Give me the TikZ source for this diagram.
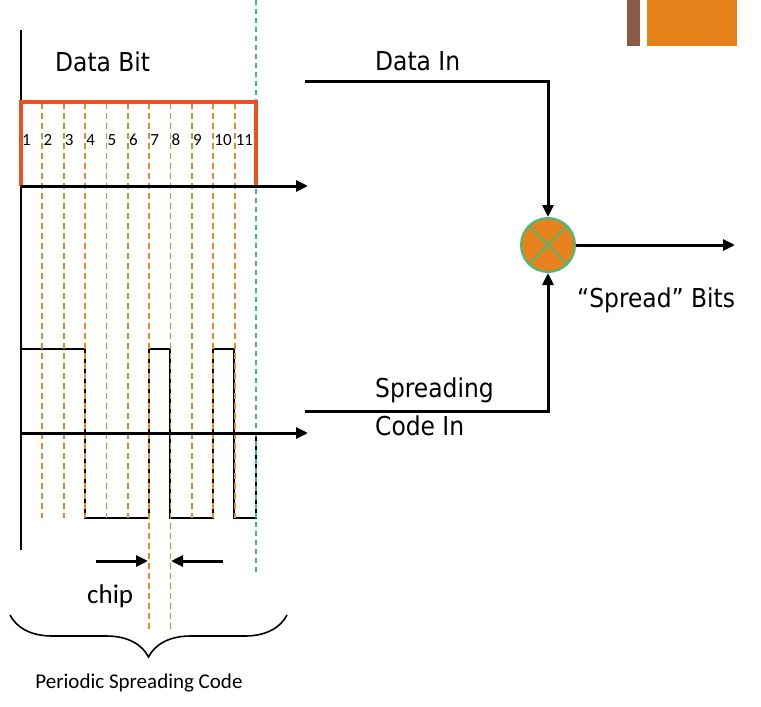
\documentclass[tikz,border=0pt]{standalone}
\usepackage{fontspec}
\setmainfont{Carlito}
\newfontfamily\labelfont{DejaVu Sans Condensed}
\usetikzlibrary{calc,positioning,arrows.meta,decorations.pathreplacing}

\definecolor{chiporange}{HTML}{E08A2E}
\definecolor{bitred}{HTML}{F04E23}
\definecolor{edgeblue}{HTML}{4A9FE0}
\definecolor{mixorange}{HTML}{E8821E}
\definecolor{mixgreen}{HTML}{3DBE7A}
\definecolor{barbrown}{HTML}{8B5A45}
\definecolor{barorange}{HTML}{E5831A}

\tikzset{
  bigtext/.style={font=\labelfont\fontsize{26}{30}\selectfont,inner sep=0pt,anchor=base west},
  numtext/.style={font=\fontsize{17}{19}\selectfont,inner sep=0pt,anchor=base west},
  chipline/.style={draw=chiporange,line width=1.8pt,dash pattern=on 6pt off 4pt},
  thinline/.style={line width=1.6pt},
  axisarrow/.style={line width=3pt,-{Triangle[length=12pt,width=11pt]}},
}

\begin{document}
\begin{tikzpicture}[x=1pt,y=-1pt]

  \useasboundingbox (0,0) rectangle (761,707);

  % corner bars
  \fill[barbrown] (627,0) rectangle (640,46);
  \fill[barorange] (647,0) rectangle (737,46);

  % axes
  \coordinate (ytop) at (21,30);
  \coordinate (ybot) at (21,550);
  \draw[thinline] (ytop) -- (ybot);

  \coordinate (bit_org) at (21,186);
  \coordinate (bit_end) at (308,186);
  \coordinate (code_org) at (21,433);
  \coordinate (code_end) at (308,433);

  % spreading code waveform
  \draw[thinline] (21,349) -- (85,349) -- (85,518) -- (149,518) -- (149,349)
    -- (170,349) -- (170,518) -- (213,518) -- (213,349) -- (234,349)
    -- (234,518) -- (256,518) -- (256,433);

  % chip boundaries
  \foreach \k in {1,...,10}{
    \pgfmathsetmacro{\xchip}{21+21.36*\k}% x-coordinate
    \pgfmathsetmacro{\ychip}{(\k==6 || \k==7) ? 632 : 518}% lower end
    \draw[chipline] (\xchip,103) -- (\xchip,\ychip);
  }
  \draw[draw=edgeblue,line width=1.5pt,dash pattern=on 5pt off 4pt] (256,0) -- (256,573);

  % data bit
  \draw[bitred,line width=4pt] (bit_org) |- (256,102) -- (256,186);
  \draw[axisarrow] (bit_org) -- (bit_end);
  \draw[axisarrow] (code_org) -- (code_end);

  \foreach \k in {1,...,11}{
    \pgfmathsetmacro{\xnum}{22+21.36*(\k-1)}
    \node [numtext] at (\xnum,145) (num_\k) {\k};
  }

  \node [bigtext] at (55,71) (databit) {Data Bit};
  \node [bigtext] at (375,70) (datain) {Data In};
  \node [bigtext] at (375,397) (spreading) {Spreading};
  \node [bigtext] at (375,435) (codein) {Code In};
  \node [bigtext] at (577,307) (spreadbits) {“Spread” Bits};

  % mixer
  \node [circle,minimum size=54pt,inner sep=0pt,fill=mixorange,draw=mixgreen,line width=2pt] at (548,245) (mix) {};
  \draw[mixgreen,line width=1.5pt] (mix.north west) -- (mix.south east);
  \draw[mixgreen,line width=1.5pt] (mix.north east) -- (mix.south west);

  \coordinate (din) at (305,81);
  \coordinate (cin) at (305,411);
  \coordinate (sout) at (735,245);
  \draw[axisarrow] (din) -| (mix.north);
  \draw[axisarrow] (cin) -| (mix.south);
  \draw[axisarrow] (mix.east) -- (sout);

  % chip width
  \coordinate (chip_l) at (96,561);
  \coordinate (chip_a) at (148,561);
  \coordinate (chip_r) at (223,561);
  \coordinate (chip_b) at (171,561);
  \draw[axisarrow] (chip_l) -- (chip_a);
  \draw[axisarrow] (chip_r) -- (chip_b);
  \node [font=\fontsize{27}{30}\selectfont,inner sep=0pt,anchor=base west] at (87,603) (chip) {chip};

  % period brace
  \coordinate (brace_l) at (10,615);
  \coordinate (brace_r) at (287,615);
  \draw[thinline,decorate,decoration={brace,mirror,amplitude=42pt}] (brace_l) -- (brace_r);
  \node [font=\fontsize{21}{24}\selectfont,inner sep=0pt,anchor=base] at (139,688) (period) {Periodic Spreading Code};

\end{tikzpicture}
\end{document}
